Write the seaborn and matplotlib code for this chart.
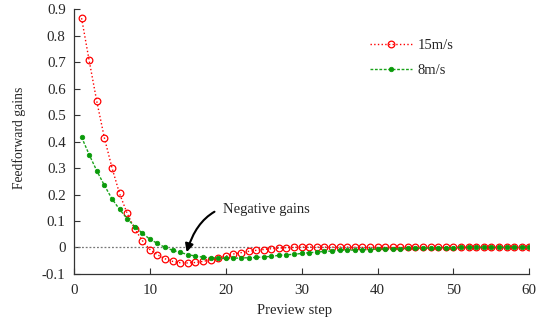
import matplotlib
matplotlib.use("Agg")
import matplotlib.pyplot as plt
import seaborn as sns
import numpy as np
import pandas as pd

steps = list(range(1, 61))
gain_15 = [0.867, 0.707, 0.553, 0.415, 0.302, 0.204, 0.129, 0.070, 0.026, -0.008,
           -0.028, -0.043, -0.053, -0.058, -0.059, -0.057, -0.053, -0.047, -0.040, -0.033,
           -0.025, -0.020, -0.015, -0.011, -0.008, -0.005, -0.003, -0.001, 0.000, 0.001,
           0.001, 0.001, 0.001, 0.001, 0.001, 0.001, 0.0005, 0.0, 0.0, 0.0,
           0.0, 0.0, 0.0, 0.0, 0.0, 0.0, 0.0, 0.0, 0.0, 0.0,
           0.0, 0.0, 0.0, 0.0, 0.0, 0.0, 0.0, 0.0, 0.0, 0.0]
gain_8 = [0.417, 0.351, 0.290, 0.235, 0.184, 0.144, 0.109, 0.079, 0.054, 0.031,
          0.015, 0.000, -0.011, -0.019, -0.027, -0.033, -0.037, -0.039, -0.041, -0.041,
          -0.041, -0.040, -0.039, -0.038, -0.036, -0.034, -0.030, -0.028, -0.026, -0.023,
          -0.020, -0.018, -0.015, -0.014, -0.011, -0.010, -0.010, -0.009, -0.008, -0.006,
          -0.006, -0.005, -0.005, -0.004, -0.003, -0.003, -0.002, -0.002, -0.001, -0.001,
          0.0, 0.0, 0.0, 0.0, 0.0, 0.0, 0.0, 0.0, 0.0, 0.0]
series_labels = ["15m/s", "8m/s"]
x_ticks = [0, 10, 20, 30, 40, 50, 60]
y_ticks = [-0.1, 0, 0.1, 0.2, 0.3, 0.4, 0.5, 0.6, 0.7, 0.8, 0.9]
y_tick_labels = ["-0.1", "0", "0.1", "0.2", "0.3", "0.4", "0.5", "0.6", "0.7", "0.8", "0.9"]
annotation_text = "Negative gains"

sns.set_theme(style="ticks")
plt.rcParams["font.family"] = ["Liberation Serif", "DejaVu Serif"]
plt.rcParams["xtick.direction"] = "in"
plt.rcParams["ytick.direction"] = "in"

fig = plt.figure(figsize=(5.44, 3.26), dpi=100)
ax = fig.add_axes([0.136, 0.160, 0.837, 0.811])

df15 = pd.DataFrame({"step": steps, "gain": gain_15})
df8 = pd.DataFrame({"step": steps, "gain": gain_8})

ax.axhline(0, color="#777777", linestyle=(0, (1.5, 1.5)), linewidth=0.9, zorder=1)

sns.lineplot(data=df15, x="step", y="gain", ax=ax, color="red", linestyle=":",
             linewidth=1.0, marker="o", markersize=4.8, markerfacecolor="none",
             markeredgecolor="red", markeredgewidth=0.9, label=series_labels[0], zorder=3)
sns.lineplot(data=df8, x="step", y="gain", ax=ax, color="#1aa31a", linestyle=(0, (2, 1.2)),
             linewidth=1.0, marker="o", markersize=3.3, markerfacecolor="#0a9a0a",
             markeredgecolor="#0a9a0a", markeredgewidth=0.5, label=series_labels[1], zorder=4)

ax.set_xlim(0, 60)
ax.set_ylim(-0.1, 0.9)
ax.set_xticks(x_ticks)
ax.set_xticklabels([str(t) for t in x_ticks])
ax.set_yticks(y_ticks)
ax.set_yticklabels(y_tick_labels)
ax.tick_params(axis="both", labelsize=10.8, length=4, width=0.8, color="#333333")
ax.tick_params(axis="y", pad=6)
ax.tick_params(axis="x", pad=7)
for side in ["top", "right"]:
    ax.spines[side].set_visible(False)
for side in ["left", "bottom"]:
    ax.spines[side].set_color("#333333")
    ax.spines[side].set_linewidth(0.9)

ax.set_xlabel("Preview step", fontsize=10.5)
ax.set_ylabel("Feedforward gains", fontsize=9.8)
ax.xaxis.set_label_coords(0.485, -0.115)
ax.yaxis.set_label_coords(-0.106, 0.516)

ax.annotate(annotation_text, xy=(14.85, -0.018), xytext=(19.6, 0.143),
            fontsize=10.5, va="center", ha="left",
            arrowprops=dict(arrowstyle="-|>", color="black", lw=1.5,
                            connectionstyle="arc3,rad=0.5", mutation_scale=12,
                            shrinkA=4, shrinkB=0))

leg = ax.legend(loc="upper left", bbox_to_anchor=(370 / 544, 1 - 39 / 326),
                bbox_transform=fig.transFigure, frameon=False, fontsize=10.5,
                handlelength=2.9, handletextpad=0.35, labelspacing=0.8,
                borderpad=0, borderaxespad=0)

fig.savefig("out.png", dpi=100)
